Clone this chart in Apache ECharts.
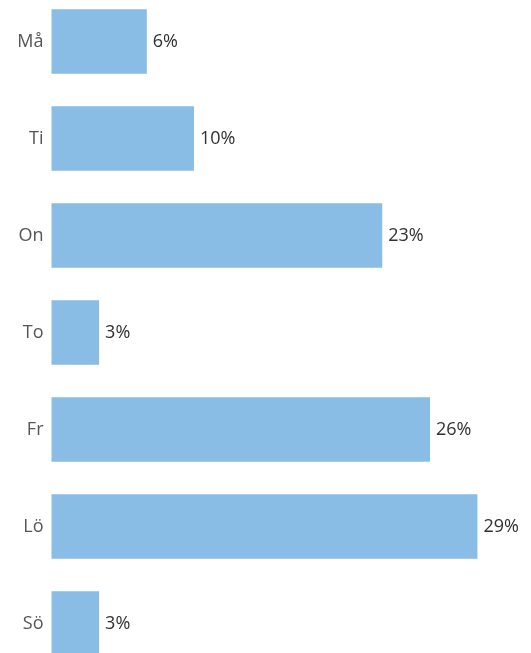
<!DOCTYPE html>
<html><head><meta charset="utf-8">
<script src="https://cdn.jsdelivr.net/npm/echarts@6/dist/echarts.min.js"></script>
<style>html,body{margin:0;padding:0;overflow:hidden;background:#fff;width:531px;height:653px}
#c{position:absolute;left:0;top:-6.8px;width:531px;height:681px}</style>
</head><body><div id="c"></div>
<script>
const categories = ['Må','Ti','On','To','Fr','Lö','Sö'];
const values = [6.49, 9.7, 22.52, 3.24, 25.77, 29.0, 3.24];
const chart = echarts.init(document.getElementById('c'), null, {renderer:'canvas'});
chart.setOption({
  animation:false,
  grid:{left:51.5, right:9.5, top:0, bottom:2, containLabel:false},
  xAxis:{type:'value', min:0, max:32, show:false},
  yAxis:{type:'category', data:categories, inverse:true,
    axisLine:{show:false}, axisTick:{show:false},
    axisLabel:{margin:8, color:'#555555', fontSize:18, fontFamily:'Open Sans'}},
  series:[{type:'bar', data:values, barWidth:'66.7%', barCategoryGap:'33.3%',
    itemStyle:{color:'#89BDE6'},
    label:{show:true, position:'right', distance:6, color:'#303030', fontSize:18, fontFamily:'Open Sans',
      formatter:p=>Math.round(p.value)+'%'}}]
});
</script></body></html>
